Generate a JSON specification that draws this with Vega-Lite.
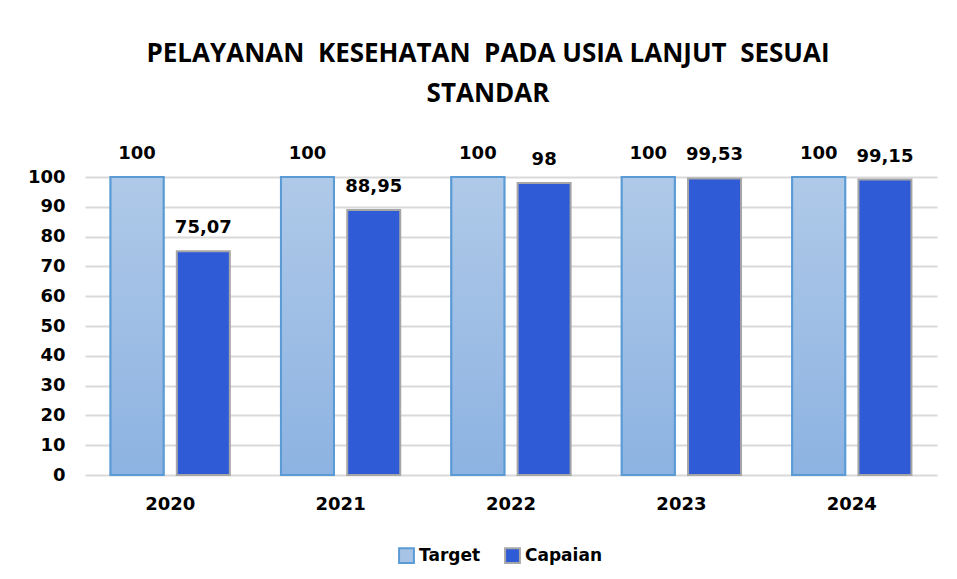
{
  "$schema": "https://vega.github.io/schema/vega-lite/v6.json",
  "width": 852,
  "height": 298,
  "autosize": {"type": "none"},
  "padding": {"left": 85, "top": 177, "right": 20, "bottom": 104},
  "background": "white",
  "title": {
    "text": ["PELAYANAN\u00a0 KESEHATAN\u00a0 PADA USIA LANJUT\u00a0 SESUAI", "STANDAR"],
    "anchor": "middle",
    "frame": "group",
    "dx": -23,
    "offset": 38,
    "font": "Open Sans, sans-serif",
    "fontSize": 26,
    "fontWeight": "bold",
    "lineHeight": 40,
    "color": "#000000"
  },
  "config": {
    "view": {"stroke": null},
    "font": "DejaVu Sans, sans-serif",
    "axis": {"labelFont": "DejaVu Sans, sans-serif", "labelFontWeight": "bold", "labelFontSize": 18, "labelColor": "#000000"}
  },
  "data": {
    "values": [
      {"year": "2020", "series": "Target", "value": 100, "label": "100"},
      {"year": "2020", "series": "Capaian", "value": 75.07, "label": "75,07"},
      {"year": "2021", "series": "Target", "value": 100, "label": "100"},
      {"year": "2021", "series": "Capaian", "value": 88.95, "label": "88,95"},
      {"year": "2022", "series": "Target", "value": 100, "label": "100"},
      {"year": "2022", "series": "Capaian", "value": 98, "label": "98"},
      {"year": "2023", "series": "Target", "value": 100, "label": "100"},
      {"year": "2023", "series": "Capaian", "value": 99.53, "label": "99,53"},
      {"year": "2024", "series": "Target", "value": 100, "label": "100"},
      {"year": "2024", "series": "Capaian", "value": 99.15, "label": "99,15"}
    ]
  },
  "encoding": {
    "x": {
      "field": "year", "type": "nominal",
      "scale": {"paddingInner": 0.3, "paddingOuter": 0.15},
      "axis": {"title": null, "labelAngle": 0, "domain": false, "ticks": false, "labelPadding": 20}
    },
    "xOffset": {"field": "series", "type": "nominal", "scale": {"domain": ["Target", "Capaian"], "paddingInner": 0.2}},
    "y": {
      "field": "value", "type": "quantitative",
      "scale": {"domain": [0, 100], "nice": false},
      "axis": {"title": null, "values": [0,10,20,30,40,50,60,70,80,90,100], "domain": false, "ticks": false, "labelPadding": 20, "gridColor": "#d9d9d9", "gridWidth": 2}
    }
  },
  "layer": [
    {
      "mark": {"type": "bar", "strokeWidth": 2},
      "encoding": {
        "fill": {
          "field": "series", "type": "nominal",
          "scale": {"domain": ["Target", "Capaian"], "range": ["#a7c3e6", "#2f5bd6"]},
          "legend": {
            "title": null, "orient": "none", "direction": "horizontal",
            "legendX": 313, "legendY": 370,
            "symbolType": "square", "symbolSize": 220, "symbolStrokeWidth": 2,
            "labelFont": "DejaVu Sans, sans-serif", "labelFontSize": 17, "labelFontWeight": "bold", "labelColor": "#000000",
            "columnPadding": 20, "labelOffset": 4
          }
        },
        "stroke": {
          "field": "series", "type": "nominal",
          "scale": {"domain": ["Target", "Capaian"], "range": ["#5b9bd5", "#a6a6a6"]},
          "legend": {
            "title": null, "orient": "none", "direction": "horizontal",
            "legendX": 313, "legendY": 370,
            "symbolType": "square", "symbolSize": 220, "symbolStrokeWidth": 2,
            "labelFont": "DejaVu Sans, sans-serif", "labelFontSize": 17, "labelFontWeight": "bold", "labelColor": "#000000",
            "columnPadding": 20, "labelOffset": 4
          }
        }
      }
    },
    {
      "transform": [{"filter": "datum.series === 'Target'"}],
      "mark": {
        "type": "bar", "strokeWidth": 2, "stroke": "#5b9bd5",
        "fill": {"gradient": "linear", "x1": 0, "y1": 0, "x2": 0, "y2": 1, "stops": [{"offset": 0, "color": "#afc9e8"}, {"offset": 1, "color": "#8db3e2"}]}
      }
    },
    {
      "mark": {"type": "text", "baseline": "bottom", "dy": -14, "fontSize": 18, "fontWeight": "bold", "color": "#000000", "font": "DejaVu Sans, sans-serif"},
      "encoding": {"text": {"field": "label"}}
    }
  ]
}
